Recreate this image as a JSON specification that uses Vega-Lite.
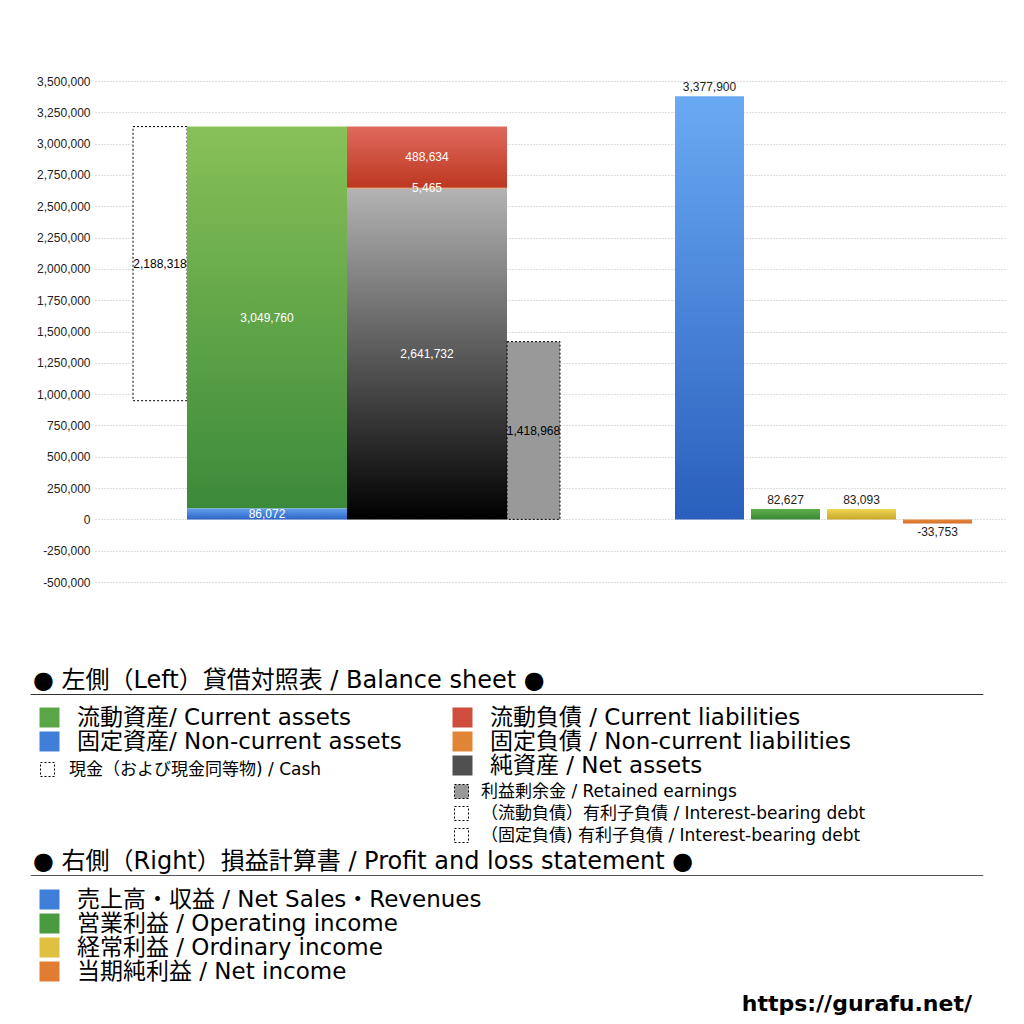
{
  "$schema": "https://vega.github.io/schema/vega-lite/v6.json",
  "width": 910,
  "height": 501,
  "autosize": {"type": "none"},
  "padding": {"left": 95, "top": 81, "right": 19, "bottom": 442},
  "title": {
    "text": "https://gurafu.net/",
    "orient": "bottom",
    "anchor": "end",
    "frame": "group",
    "offset": 10,
    "dx": -33,
    "fontSize": 22,
    "font": "DejaVu Sans",
    "fontWeight": "bold",
    "color": "#000"
  },
  "datasets": {
    "bs": [
      {"item": "現金", "side": "現金", "label": "現金（および現金同等物) / Cash", "value": 2188318, "low": 947514, "high": 3135832},
      {"item": "流動資産", "side": "資産", "label": "流動資産/ Current assets", "value": 3049760, "low": 86072, "high": 3135832},
      {"item": "固定資産", "side": "資産", "label": "固定資産/ Non-current assets", "value": 86072, "low": 0, "high": 86072},
      {"item": "流動負債", "side": "負債・純資産", "label": "流動負債 /  Current liabilities", "value": 488634, "low": 2647197, "high": 3135831},
      {"item": "固定負債", "side": "負債・純資産", "label": "固定負債 / Non-current liabilities", "value": 5465, "low": 2641732, "high": 2647197},
      {"item": "純資産", "side": "負債・純資産", "label": "純資産 / Net assets", "value": 2641732, "low": 0, "high": 2641732},
      {"item": "利益剰余金", "side": "利益剰余金", "label": "利益剰余金 / Retained earnings", "value": 1418968, "low": 0, "high": 1418968}
    ],
    "pl": [
      {"item": "売上高", "label": "売上高・収益 / Net Sales・Revenues", "value": 3377900},
      {"item": "営業利益", "label": "営業利益 / Operating income", "value": 82627},
      {"item": "経常利益", "label": "経常利益 / Ordinary income", "value": 83093},
      {"item": "当期純利益", "label": "当期純利益 / Net income", "value": -33753}
    ]
  },
  "layer": [
    {
      "data": {"name": "pl"},
      "mark": {"type": "bar", "opacity": 0},
      "encoding": {
        "x": {"field": "item", "type": "nominal", "axis": null},
        "y": {"field": "value", "type": "quantitative", "title": null,
              "scale": {"domain": [-500000, 3500000], "nice": false},
              "axis": {"values": [-500000, -250000, 0, 250000, 500000, 750000, 1000000, 1250000, 1500000, 1750000, 2000000, 2250000, 2500000, 2750000, 3000000, 3250000, 3500000], "labelExpr": "replace(format(datum.value, ','), '\u2212', '-')"}}
      }
    },
    {
      "data": {"name": "bs"},
      "transform": [
        {"filter": "datum.item === '現金'"},
        {"calculate": "(datum.low + datum.high) / 2", "as": "mid"}
      ],
      "encoding": {
        "x": {"field": "side", "type": "nominal", "axis": null,
              "scale": {"type": "band", "domain": ["現金"], "paddingInner": 0, "paddingOuter": 0, "rangeMin": 38, "rangeMax": 92}}
      },
      "layer": [
        {
          "mark": {"type": "bar", "fill": "#fff", "stroke": "#000", "strokeWidth": 1, "strokeDash": [2, 2]},
          "encoding": {
            "y": {"field": "low", "type": "quantitative", "title": null, "scale": {"domain": [-500000, 3500000], "nice": false},
                  "axis": {"values": [-500000, -250000, 0, 250000, 500000, 750000, 1000000, 1250000, 1500000, 1750000, 2000000, 2250000, 2500000, 2750000, 3000000, 3250000, 3500000], "labelExpr": "replace(format(datum.value, ','), '\u2212', '-')"}},
            "y2": {"field": "high"}
          }
        },
        {
          "mark": {"type": "text", "color": "#000", "fontSize": 12, "font": "Liberation Sans"},
          "encoding": {
            "y": {"field": "mid", "type": "quantitative", "title": null, "scale": {"domain": [-500000, 3500000], "nice": false},
                  "axis": {"values": [-500000, -250000, 0, 250000, 500000, 750000, 1000000, 1250000, 1500000, 1750000, 2000000, 2250000, 2500000, 2750000, 3000000, 3250000, 3500000], "labelExpr": "replace(format(datum.value, ','), '\u2212', '-')"}},
            "text": {"field": "value", "type": "quantitative", "format": ","}
          }
        }
      ]
    },
    {
      "data": {"name": "bs"},
      "transform": [
        {"filter": "datum.side === '資産' || datum.side === '負債・純資産'"},
        {"calculate": "(datum.low + datum.high) / 2", "as": "mid"}
      ],
      "encoding": {
        "x": {"field": "side", "type": "nominal", "axis": null,
              "scale": {"type": "band", "domain": ["資産", "負債・純資産"], "paddingInner": 0, "paddingOuter": 0, "rangeMin": 92, "rangeMax": 412}},
        "y": {"field": "low", "type": "quantitative", "title": null, "scale": {"domain": [-500000, 3500000], "nice": false},
              "axis": {"values": [-500000, -250000, 0, 250000, 500000, 750000, 1000000, 1250000, 1500000, 1750000, 2000000, 2250000, 2500000, 2750000, 3000000, 3250000, 3500000], "labelExpr": "replace(format(datum.value, ','), '\u2212', '-')"}},
        "y2": {"field": "high"}
      },
      "layer": [
        {
          "transform": [{"filter": "datum.item === '流動資産'"}],
          "mark": {"type": "bar", "fill": {"gradient": "linear", "x1": 0, "y1": 0, "x2": 0, "y2": 1, "stops": [{"offset": 0, "color": "#88c157"}, {"offset": 1, "color": "#3b8a3a"}]}}
        },
        {
          "transform": [{"filter": "datum.item === '固定資産'"}],
          "mark": {"type": "bar", "fill": {"gradient": "linear", "x1": 0, "y1": 0, "x2": 0, "y2": 1, "stops": [{"offset": 0, "color": "#62a0ee"}, {"offset": 1, "color": "#2c64c4"}]}}
        },
        {
          "transform": [{"filter": "datum.item === '純資産'"}],
          "mark": {"type": "bar", "fill": {"gradient": "linear", "x1": 0, "y1": 0, "x2": 0, "y2": 1, "stops": [{"offset": 0, "color": "#b3b3b3"}, {"offset": 1, "color": "#000000"}]}}
        },
        {
          "transform": [{"filter": "datum.item === '固定負債'"}],
          "mark": {"type": "bar", "fill": "#e08535"}
        },
        {
          "transform": [{"filter": "datum.item === '流動負債'"}],
          "mark": {"type": "bar", "fill": {"gradient": "linear", "x1": 0, "y1": 0, "x2": 0, "y2": 1, "stops": [{"offset": 0, "color": "#df6a5c"}, {"offset": 1, "color": "#bd3720"}]}}
        },
        {
          "mark": {"type": "text", "color": "#fff", "fontSize": 12, "font": "Liberation Sans"},
          "encoding": {
            "y": {"field": "mid", "type": "quantitative", "title": null, "scale": {"domain": [-500000, 3500000], "nice": false},
                  "axis": {"values": [-500000, -250000, 0, 250000, 500000, 750000, 1000000, 1250000, 1500000, 1750000, 2000000, 2250000, 2500000, 2750000, 3000000, 3250000, 3500000], "labelExpr": "replace(format(datum.value, ','), '\u2212', '-')"}},
            "y2": null,
            "text": {"field": "value", "type": "quantitative", "format": ","}
          }
        }
      ]
    },
    {
      "data": {"name": "bs"},
      "transform": [
        {"filter": "datum.item === '利益剰余金'"},
        {"calculate": "(datum.low + datum.high) / 2", "as": "mid"}
      ],
      "encoding": {
        "x": {"field": "side", "type": "nominal", "axis": null,
              "scale": {"type": "band", "domain": ["利益剰余金"], "paddingInner": 0, "paddingOuter": 0, "rangeMin": 412, "rangeMax": 465}}
      },
      "layer": [
        {
          "mark": {"type": "bar", "fill": "#999999", "stroke": "#000", "strokeWidth": 1, "strokeDash": [2, 2]},
          "encoding": {
            "y": {"field": "low", "type": "quantitative", "title": null, "scale": {"domain": [-500000, 3500000], "nice": false},
                  "axis": {"values": [-500000, -250000, 0, 250000, 500000, 750000, 1000000, 1250000, 1500000, 1750000, 2000000, 2250000, 2500000, 2750000, 3000000, 3250000, 3500000], "labelExpr": "replace(format(datum.value, ','), '\u2212', '-')"}},
            "y2": {"field": "high"}
          }
        },
        {
          "mark": {"type": "text", "color": "#000", "fontSize": 12, "font": "Liberation Sans"},
          "encoding": {
            "y": {"field": "mid", "type": "quantitative", "title": null, "scale": {"domain": [-500000, 3500000], "nice": false},
                  "axis": {"values": [-500000, -250000, 0, 250000, 500000, 750000, 1000000, 1250000, 1500000, 1750000, 2000000, 2250000, 2500000, 2750000, 3000000, 3250000, 3500000], "labelExpr": "replace(format(datum.value, ','), '\u2212', '-')"}},
            "text": {"field": "value", "type": "quantitative", "format": ","}
          }
        }
      ]
    },
    {
      "data": {"name": "pl"},
      "transform": [{"calculate": "replace(format(datum.value, ','), '\u2212', '-')", "as": "lab"}],
      "encoding": {
        "x": {"field": "item", "type": "nominal", "axis": null,
              "scale": {"type": "band", "domain": ["売上高", "営業利益", "経常利益", "当期純利益"], "paddingInner": 0.0921, "paddingOuter": 0, "rangeMin": 580, "rangeMax": 877}},
        "y": {"field": "value", "type": "quantitative", "title": null, "scale": {"domain": [-500000, 3500000], "nice": false},
              "axis": {"values": [-500000, -250000, 0, 250000, 500000, 750000, 1000000, 1250000, 1500000, 1750000, 2000000, 2250000, 2500000, 2750000, 3000000, 3250000, 3500000], "labelExpr": "replace(format(datum.value, ','), '\u2212', '-')"}}
      },
      "layer": [
        {
          "transform": [{"filter": "datum.item === '売上高'"}],
          "mark": {"type": "bar", "fill": {"gradient": "linear", "x1": 0, "y1": 0, "x2": 0, "y2": 1, "stops": [{"offset": 0, "color": "#6aaaf3"}, {"offset": 1, "color": "#2a5fbd"}]}}
        },
        {
          "transform": [{"filter": "datum.item === '営業利益'"}],
          "mark": {"type": "bar", "fill": {"gradient": "linear", "x1": 0, "y1": 0, "x2": 0, "y2": 1, "stops": [{"offset": 0, "color": "#5fae4c"}, {"offset": 1, "color": "#3a8a36"}]}}
        },
        {
          "transform": [{"filter": "datum.item === '経常利益'"}],
          "mark": {"type": "bar", "fill": {"gradient": "linear", "x1": 0, "y1": 0, "x2": 0, "y2": 1, "stops": [{"offset": 0, "color": "#f0d64e"}, {"offset": 1, "color": "#c9a72e"}]}}
        },
        {
          "transform": [{"filter": "datum.item === '当期純利益'"}],
          "mark": {"type": "bar", "fill": {"gradient": "linear", "x1": 0, "y1": 0, "x2": 0, "y2": 1, "stops": [{"offset": 0, "color": "#e8893a"}, {"offset": 1, "color": "#d06d29"}]}}
        },
        {
          "transform": [{"filter": "datum.value >= 0"}],
          "mark": {"type": "text", "color": "#222", "fontSize": 12, "font": "Liberation Sans", "baseline": "bottom", "dy": -2},
          "encoding": {"text": {"field": "lab", "type": "nominal"}}
        },
        {
          "transform": [{"filter": "datum.value < 0"}],
          "mark": {"type": "text", "color": "#222", "fontSize": 12, "font": "Liberation Sans", "baseline": "top", "dy": 3},
          "encoding": {"text": {"field": "lab", "type": "nominal"}}
        }
      ]
    },
    {
      "data": {"name": "bs"},
      "mark": {"type": "square", "opacity": 0},
      "encoding": {
        "fill": {"datum": "line", "scale": {"domain": ["line"], "range": ["transparent"]},
                 "legend": {"title": "● 左側（Left）貸借対照表 / Balance sheet ●", "titleFontSize": 24, "titlePadding": 0,
                            "legendX": -62, "legendY": 588, "symbolType": "M-4,0H996", "symbolSize": 3.63,
                            "symbolStrokeColor": "#333", "symbolStrokeWidth": 1, "labelExpr": "''", "labelFontSize": 1}}
      }
    },
    {
      "data": {"name": "bs"},
      "mark": {"type": "square", "opacity": 0},
      "encoding": {
        "fill": {"field": "label", "type": "nominal",
                 "scale": {"domain": ["流動資産/ Current assets", "固定資産/ Non-current assets"], "range": ["#5aa546", "#3f7fd8"]},
                 "legend": {"title": null, "legendX": -57, "legendY": 625, "symbolSize": 400, "symbolStrokeWidth": 0, "labelFontSize": 23, "rowPadding": 0, "labelOffset": 16}}
      }
    },
    {
      "data": {"name": "bs"},
      "mark": {"type": "square", "opacity": 0},
      "encoding": {
        "fill": {"field": "label", "type": "nominal",
                 "scale": {"domain": ["現金（および現金同等物) / Cash"], "range": ["#ffffff"]},
                 "legend": {"title": null, "legendX": -56, "legendY": 680, "symbolSize": 196, "symbolStrokeColor": "#000", "symbolStrokeWidth": 1, "symbolDash": [2, 2], "labelFontSize": 17, "labelOffset": 13}}
      }
    },
    {
      "data": {"name": "bs"},
      "mark": {"type": "square", "opacity": 0},
      "encoding": {
        "fill": {"field": "label", "type": "nominal",
                 "scale": {"domain": ["流動負債 /  Current liabilities", "固定負債 / Non-current liabilities", "純資産 / Net assets"], "range": ["#cf4d3c", "#e08535", "#505050"]},
                 "legend": {"title": null, "legendX": 356, "legendY": 625, "symbolSize": 400, "symbolStrokeWidth": 0, "labelFontSize": 23, "rowPadding": 0, "labelOffset": 16}}
      }
    },
    {
      "data": {"name": "bs"},
      "mark": {"type": "square", "opacity": 0},
      "encoding": {
        "fill": {"field": "label", "type": "nominal",
                 "scale": {"domain": ["利益剰余金 / Retained earnings", "（流動負債）有利子負債 / Interest-bearing debt", "（固定負債) 有利子負債 / Interest-bearing debt"], "range": ["#999999", "#ffffff", "#ffffff"]},
                 "legend": {"title": null, "legendX": 358, "legendY": 702, "symbolSize": 196, "symbolStrokeColor": "#000", "symbolStrokeWidth": 1, "symbolDash": [2, 2], "labelFontSize": 17, "labelOffset": 11, "rowPadding": 3}}
      }
    },
    {
      "data": {"name": "pl"},
      "mark": {"type": "square", "opacity": 0},
      "encoding": {
        "fill": {"datum": "line", "scale": {"domain": ["line"], "range": ["transparent"]},
                 "legend": {"title": "● 右側（Right）損益計算書 / Profit and loss statement ●", "titleFontSize": 24, "titlePadding": 0,
                            "legendX": -62, "legendY": 769, "symbolType": "M-4,0H996", "symbolSize": 3.63,
                            "symbolStrokeColor": "#555", "symbolStrokeWidth": 1, "labelExpr": "''", "labelFontSize": 1}}
      }
    },
    {
      "data": {"name": "pl"},
      "mark": {"type": "square", "opacity": 0},
      "encoding": {
        "fill": {"field": "label", "type": "nominal",
                 "scale": {"domain": ["売上高・収益 / Net Sales・Revenues", "営業利益 / Operating income", "経常利益 / Ordinary income", "当期純利益 / Net income"], "range": ["#3f7fd8", "#4a9a40", "#e0c040", "#e07d32"]},
                 "legend": {"title": null, "legendX": -57, "legendY": 807, "symbolSize": 400, "symbolStrokeWidth": 0, "labelFontSize": 23, "rowPadding": 0, "labelOffset": 16}}
      }
    }
  ],
  "resolve": {"scale": {"x": "independent", "fill": "independent"}, "legend": {"fill": "independent"}},
  "config": {
    "view": {"stroke": null},
    "axisY": {
      "domain": false,
      "ticks": false,
      "labelPadding": 5,
      "labelFontSize": 12,
      "labelColor": "#222",
      "labelFont": "Liberation Sans",
      "gridColor": "#bbbbbb",
      "gridDash": [1, 2]
    },
    "legend": {
      "orient": "none",
      "direction": "vertical",
      "padding": 0,
      "rowPadding": 2,
      "labelFont": "DejaVu Sans, Noto Sans CJK JP",
      "titleFont": "DejaVu Sans, Noto Sans CJK JP",
      "labelColor": "#000",
      "titleColor": "#000",
      "titleFontWeight": "normal",
      "labelLimit": 800,
      "titleLimit": 1000,
      "symbolOpacity": 1,
      "symbolType": "square"
    }
  }
}
